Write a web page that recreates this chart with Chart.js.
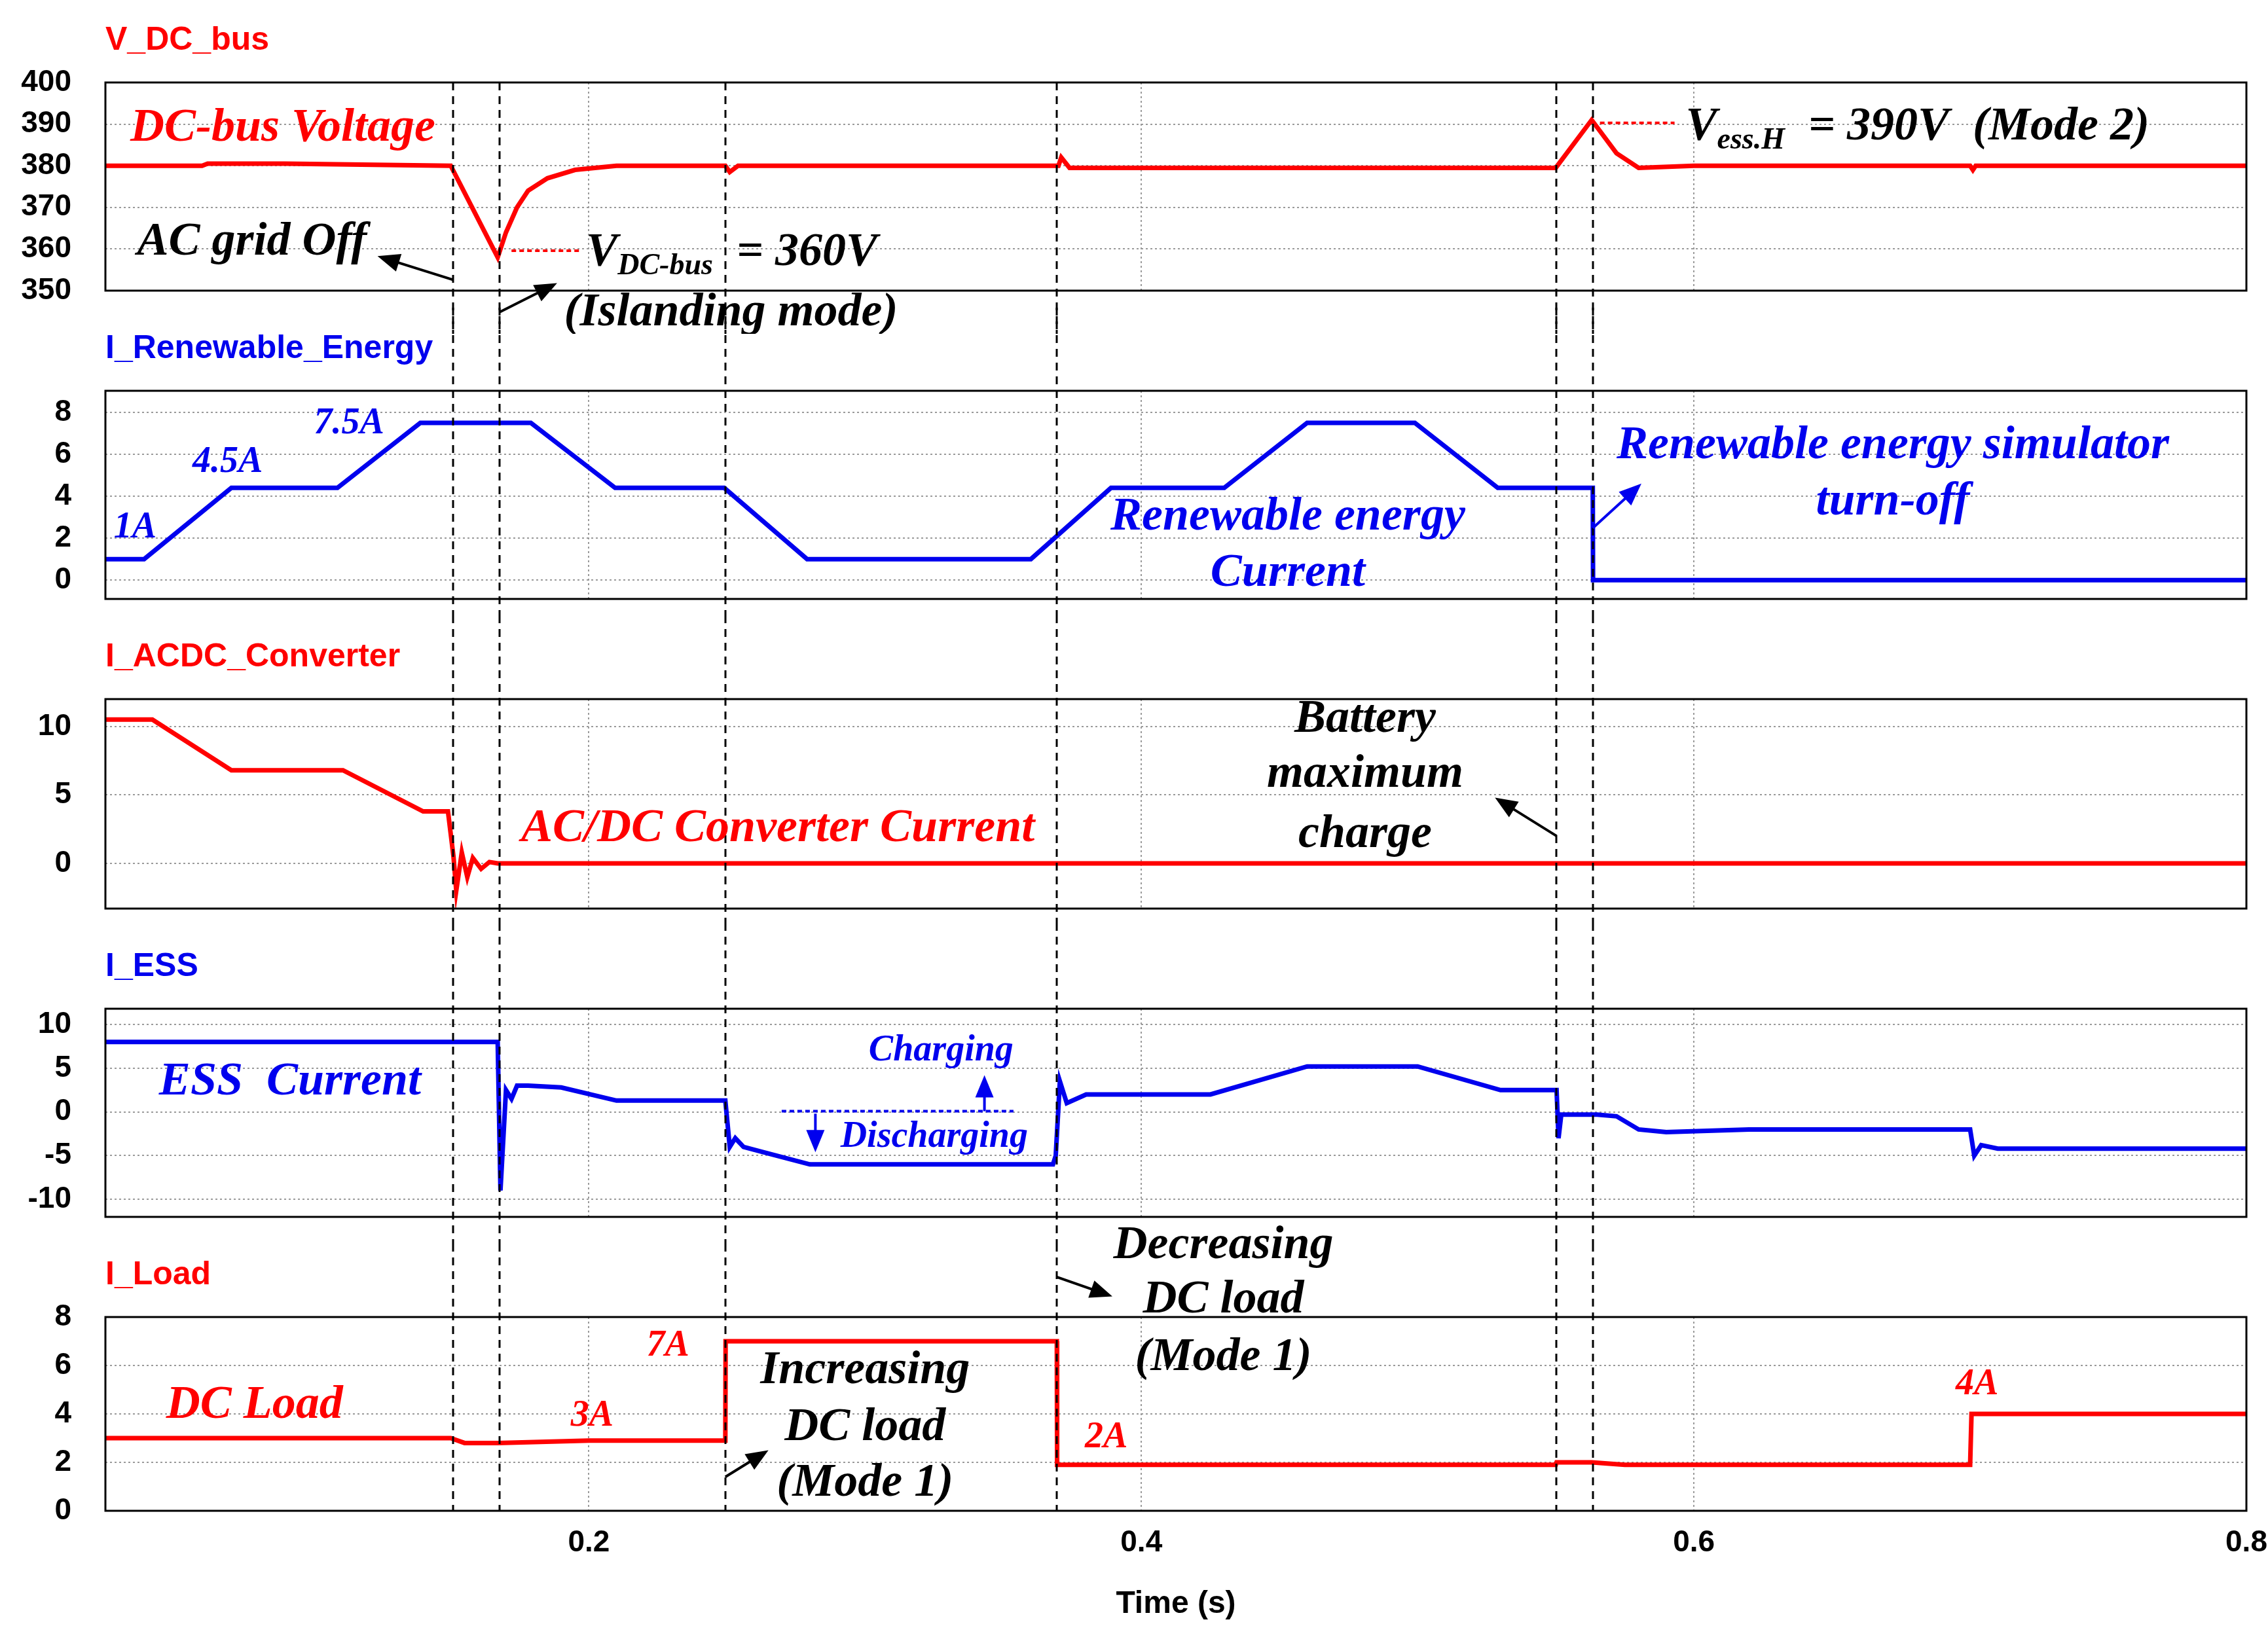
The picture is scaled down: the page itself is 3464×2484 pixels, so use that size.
<!DOCTYPE html>
<html><head><meta charset="utf-8">
<script src="https://cdn.jsdelivr.net/npm/chart.js@4.4.0/dist/chart.umd.min.js"></script>
<style>html,body{margin:0;padding:0;background:#fff;width:3464px;height:2484px;overflow:hidden}
.c{position:absolute;left:0;width:3464px}</style></head><body>
<div class="c" id="w1" style="top:0;height:510px"><canvas id="c1"></canvas></div>
<div class="c" id="w2" style="top:470px;height:470px"><canvas id="c2"></canvas></div>
<div class="c" id="w3" style="top:940px;height:470px"><canvas id="c3"></canvas></div>
<div class="c" id="w4" style="top:1410px;height:490px"><canvas id="c4"></canvas></div>
<div class="c" id="w5" style="top:1800px;height:684px"><canvas id="c5"></canvas></div>
<script>
// ---- data ----
const eventTimes = [0.1508, 0.1676, 0.2494, 0.3694, 0.5503, 0.5634];
const xTicks = [0.2, 0.4, 0.6, 0.8];
const vdcT = [0.025,0.06,0.062,0.09,0.15,0.167,0.170,0.174,0.178,0.185,0.195,0.21,0.2494,0.251,0.254,0.26,0.37,0.371,0.374,0.378,0.55,0.563,0.572,0.58,0.6,0.7,0.701,0.702,0.8];
const vdcV = [380,380,380.5,380.5,380,358,364,370,374,377,379,380,380,378.5,380,380,380,382,379.5,379.5,379.5,391,383,379.5,380,380,379,380,380];
const ireT = [0.025,0.039,0.0706,0.109,0.139,0.179,0.2095,0.249,0.279,0.36,0.389,0.43,0.46,0.499,0.529,0.5634,0.5635,0.8];
const ireV = [1,1,4.4,4.4,7.5,7.5,4.4,4.4,1,1,4.4,4.4,7.5,7.5,4.4,4.4,0,0];
const iacT = [0.025,0.042,0.0706,0.111,0.14,0.149,0.151,0.152,0.154,0.156,0.158,0.161,0.164,0.167,0.8];
const iacV = [10.5,10.5,6.8,6.8,3.8,3.8,0.5,-2,0.8,-1,0.4,-0.4,0.1,0,0];
const iessT = [0.025,0.167,0.168,0.170,0.172,0.174,0.178,0.19,0.21,0.2494,0.251,0.253,0.256,0.262,0.28,0.368,0.369,0.3705,0.373,0.38,0.425,0.46,0.5,0.53,0.5503,0.551,0.552,0.565,0.572,0.58,0.59,0.62,0.7,0.7015,0.704,0.71,0.8];
const iessV = [8,8,-9,2.5,1.5,3,3,2.8,1.3,1.3,-4,-3,-4,-4.5,-6,-6,-5,3.5,1,2,2,5.2,5.2,2.5,2.5,-3,-0.3,-0.3,-0.5,-2,-2.3,-2,-2,-5,-3.8,-4.2,-4.2];
const iloadT = [0.025,0.15,0.155,0.167,0.2,0.2494,0.2495,0.3694,0.3695,0.55,0.5503,0.563,0.575,0.7,0.7005,0.8];
const iloadV = [3,3,2.8,2.8,2.9,2.9,7,7,1.9,1.9,2,2,1.9,1.9,4,4];
const titles = ["V_DC_bus","I_Renewable_Energy","I_ACDC_Converter","I_ESS","I_Load"];
const ytick1=[350,360,370,380,390,400], ytick2=[0,2,4,6,8], ytick3=[0,5,10], ytick4=[-10,-5,0,5,10], ytick5=[0,2,4,6,8];

const RED='#ff0000', BLUE='#0000ee', BLK='#000';
const SER='"Liberation Serif", "Times New Roman", serif';
const SAN='"Liberation Sans", Arial, sans-serif';
function pts(t,v){return t.map((x,i)=>({x:x,y:v[i]}));}

function drawArrow(ctx,x1,y1,x2,y2,col){
  ctx.save();ctx.strokeStyle=col;ctx.fillStyle=col;ctx.lineWidth=4;ctx.setLineDash([]);
  const a=Math.atan2(y2-y1,x2-x1),L=34,W=14;
  ctx.beginPath();ctx.moveTo(x1,y1);ctx.lineTo(x2-L*0.7*Math.cos(a),y2-L*0.7*Math.sin(a));ctx.stroke();
  ctx.beginPath();ctx.moveTo(x2,y2);
  ctx.lineTo(x2-L*Math.cos(a)+W*Math.sin(a),y2-L*Math.sin(a)-W*Math.cos(a));
  ctx.lineTo(x2-L*Math.cos(a)-W*Math.sin(a),y2-L*Math.sin(a)+W*Math.cos(a));
  ctx.closePath();ctx.fill();ctx.restore();
}
function mkPlugin(idx,lineFrom,lineTo,ann){
  return {id:'p'+idx,
  afterDraw(chart){
    const ctx=chart.ctx, ca=chart.chartArea, xs=chart.scales.x, ys=chart.scales.y;
    ctx.save();
    ctx.strokeStyle=BLK;ctx.lineWidth=3;ctx.strokeRect(ca.left,ca.top,ca.right-ca.left,ca.bottom-ca.top);
    ctx.fillStyle=(idx%2===0)?RED:BLUE;ctx.font='bold 50px '+SAN;ctx.textAlign='left';ctx.textBaseline='middle';
    ctx.fillText(titles[idx],161,ca.top-64);
    ctx.strokeStyle=BLK;ctx.lineWidth=3;ctx.setLineDash([12,9]);
    const y0=lineFrom===null?ca.top:lineFrom, y1=lineTo===null?ca.bottom:lineTo;
    eventTimes.forEach(t=>{const x=Math.round(xs.getPixelForValue(t));ctx.beginPath();ctx.moveTo(x,y0);ctx.lineTo(x,y1);ctx.stroke();});
    ctx.setLineDash([]);
    ann.forEach(a=>{
      if(a.type==='text'){
        ctx.fillStyle=a.color;ctx.font='italic bold '+(a.size||72)+'px '+SER;ctx.textAlign=a.align||'left';ctx.textBaseline='middle';
        ctx.fillText(a.s,xs.getPixelForValue(a.t),ys.getPixelForValue(a.v));
      } else if(a.type==='sub'){
        let x=xs.getPixelForValue(a.t), y=ys.getPixelForValue(a.v);
        ctx.fillStyle=a.color;ctx.textAlign='left';ctx.textBaseline='middle';
        ctx.font='italic bold 72px '+SER;ctx.fillText(a.main,x,y);x+=ctx.measureText(a.main).width;
        ctx.font='italic bold 46px '+SER;ctx.fillText(a.sub,x,y+20);x+=ctx.measureText(a.sub).width;
        ctx.font='italic bold 72px '+SER;ctx.fillText(a.rest,x,y);
      } else if(a.type==='arrow'){
        drawArrow(ctx,xs.getPixelForValue(a.t1),ys.getPixelForValue(a.v1),xs.getPixelForValue(a.t2),ys.getPixelForValue(a.v2),a.color);
      } else if(a.type==='dash'){
        ctx.strokeStyle=a.color;ctx.lineWidth=4;ctx.setLineDash([7,5]);ctx.beginPath();
        ctx.moveTo(xs.getPixelForValue(a.t1),ys.getPixelForValue(a.v1));ctx.lineTo(xs.getPixelForValue(a.t2),ys.getPixelForValue(a.v2));ctx.stroke();ctx.setLineDash([]);
      }
    });
    ctx.restore();
  }};
}
function zeroPad(s){s.paddingTop=0;s.paddingBottom=0;s.paddingLeft=0;s.paddingRight=0;}
function mk(id,idx,t,v,color,ymin,ymax,yt,padTop,padBot,showX,lineFrom,lineTo,ann){
  new Chart(document.getElementById(id),{
    type:'line',
    data:{datasets:[{data:pts(t,v),borderColor:color,borderWidth:7,pointRadius:0,tension:0,fill:false}]},
    options:{responsive:true,maintainAspectRatio:false,animation:false,
      layout:{padding:{top:padTop,bottom:padBot,left:0,right:33}},
      plugins:{legend:{display:false},tooltip:{enabled:false}},
      scales:{
        x:{type:'linear',min:0.025,max:0.8,
          afterBuildTicks:s=>{s.ticks=xTicks.map(x=>({value:x}));},
          afterFit:s=>{s.height=showX?176:0;zeroPad(s);},
          grid:{color:'#9a9a9a',lineWidth:2,drawTicks:false},
          border:{display:false,dash:[3,4]},
          ticks:{display:showX,padding:22,color:BLK,font:{family:SAN,weight:'bold',size:46},callback:v=>String(v)},
          title:{display:showX,text:'Time (s)',color:BLK,font:{family:SAN,weight:'bold',size:48},padding:{top:4}}},
        y:{min:ymin,max:ymax,
          afterBuildTicks:s=>{s.ticks=yt.map(x=>({value:x}));},
          afterFit:s=>{s.width=161;zeroPad(s);},
          grid:{color:'#9a9a9a',lineWidth:2,drawTicks:false},
          border:{display:false,dash:[3,4]},
          ticks:{padding:52,color:BLK,font:{family:SAN,weight:'bold',size:46},callback:v=>String(v)}}
      }},
    plugins:[mkPlugin(idx,lineFrom,lineTo,ann)]
  });
}

mk('c1',0,vdcT,vdcV,RED,350,400,ytick1,126,66,false,null,510,[
  {type:'text',t:0.034,v:388.9,s:'DC-bus Voltage',color:RED},
  {type:'text',t:0.0365,v:361.5,s:'AC grid Off',color:BLK},
  {type:'arrow',t1:0.1508,v1:352.6,t2:0.1235,v2:358.3,color:BLK},
  {type:'dash',t1:0.172,v1:359.6,t2:0.197,v2:359.6,color:RED},
  {type:'sub',t:0.199,v:359,main:'V',sub:'DC-bus',rest:'  = 360V',color:BLK},
  {type:'text',t:0.191,v:344.6,s:'(Islanding mode)',color:BLK},
  {type:'arrow',t1:0.1676,v1:344.8,t2:0.1885,v2:351.8,color:BLK},
  {type:'dash',t1:0.566,v1:390.3,t2:0.593,v2:390.3,color:RED},
  {type:'sub',t:0.597,v:389.2,main:'V',sub:'ess.H',rest:'  = 390V  (Mode 2)',color:BLK}
]);
mk('c2',1,ireT,ireV,BLUE,-0.9,9.03,ytick2,127,25,false,0,470,[
  {type:'text',t:0.028,v:2.5,s:'1A',color:BLUE,size:56},
  {type:'text',t:0.0565,v:5.6,s:'4.5A',color:BLUE,size:56},
  {type:'text',t:0.1005,v:7.45,s:'7.5A',color:BLUE,size:56},
  {type:'text',t:0.453,v:3.0,s:'Renewable energy',color:BLUE,align:'center'},
  {type:'text',t:0.453,v:0.3,s:'Current',color:BLUE,align:'center'},
  {type:'text',t:0.672,v:6.4,s:'Renewable energy simulator',color:BLUE,align:'center'},
  {type:'text',t:0.672,v:3.7,s:'turn-off',color:BLUE,align:'center'},
  {type:'arrow',t1:0.5634,v1:2.48,t2:0.581,v2:4.6,color:BLUE}
]);
mk('c3',2,iacT,iacV,RED,-3.3,12,ytick3,128,22,false,0,470,[
  {type:'text',t:0.481,v:10.5,s:'Battery',color:BLK,align:'center'},
  {type:'text',t:0.481,v:6.5,s:'maximum',color:BLK,align:'center'},
  {type:'text',t:0.481,v:2.1,s:'charge',color:BLK,align:'center'},
  {type:'arrow',t1:0.5503,v1:2.0,t2:0.528,v2:4.8,color:BLK},
  {type:'text',t:0.1755,v:2.5,s:'AC/DC Converter Current',color:RED}
]);
mk('c4',3,iessT,iessV,BLUE,-12,11.8,ytick4,131,41,false,0,490,[
  {type:'text',t:0.0444,v:3.4,s:'ESS  Current',color:BLUE},
  {type:'dash',t1:0.2698,v1:0.08,t2:0.3537,v2:0.08,color:BLUE},
  {type:'arrow',t1:0.3432,v1:0.08,t2:0.3432,v2:4.2,color:BLUE},
  {type:'arrow',t1:0.282,v1:-0.2,t2:0.282,v2:-4.6,color:BLUE},
  {type:'text',t:0.3275,v:7.0,s:'Charging',color:BLUE,size:56,align:'center'},
  {type:'text',t:0.325,v:-2.9,s:'Discharging',color:BLUE,size:56,align:'center'}
]);
mk('c5',4,iloadT,iloadV,RED,0,8,ytick5,212,0,true,100,null,[
  {type:'text',t:0.047,v:4.35,s:'DC Load',color:RED},
  {type:'text',t:0.2012,v:3.9,s:'3A',color:RED,size:56,align:'center'},
  {type:'text',t:0.2286,v:6.8,s:'7A',color:RED,size:56,align:'center'},
  {type:'text',t:0.3873,v:3.0,s:'2A',color:RED,size:56,align:'center'},
  {type:'text',t:0.7025,v:5.2,s:'4A',color:RED,size:56,align:'center'},
  {type:'text',t:0.3,v:5.76,s:'Increasing',color:BLK,align:'center'},
  {type:'text',t:0.3,v:3.41,s:'DC load',color:BLK,align:'center'},
  {type:'text',t:0.3,v:1.12,s:'(Mode 1)',color:BLK,align:'center'},
  {type:'arrow',t1:0.2494,v1:1.4,t2:0.265,v2:2.5,color:BLK},
  {type:'text',t:0.4297,v:10.94,s:'Decreasing',color:BLK,align:'center'},
  {type:'text',t:0.4297,v:8.7,s:'DC load',color:BLK,align:'center'},
  {type:'text',t:0.4297,v:6.3,s:'(Mode 1)',color:BLK,align:'center'},
  {type:'arrow',t1:0.3694,v1:9.65,t2:0.3895,v2:8.85,color:BLK}
]);
</script></body></html>
